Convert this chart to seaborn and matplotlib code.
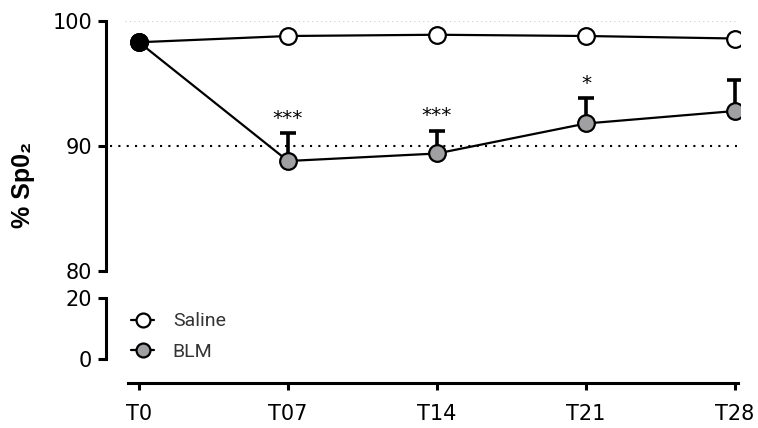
import matplotlib
matplotlib.use("Agg")
import matplotlib.pyplot as plt
import seaborn as sns
import pandas as pd
import numpy as np
from matplotlib.lines import Line2D

timepoints = ["T0", "T07", "T14", "T21", "T28"]
saline = [98.3, 98.8, 98.9, 98.8, 98.6]
blm = [98.3, 88.8, 89.4, 91.8, 92.8]
blm_err_upper = [0.0, 2.2, 1.8, 2.0, 2.5]
stars = ["", "***", "***", "*", ""]
threshold = 90

sns.set_theme(style="white")
plt.rcParams['font.family'] = ['DejaVu Sans']

W, H = 758, 428
fig = plt.figure(figsize=(W / 100, H / 100), dpi=100)

def frac(x0, y0, x1, y1):
    return [x0 / W, 1 - y1 / H, (x1 - x0) / W, (y1 - y0) / H]

ax = fig.add_axes(frac(106, 21, 740, 271))
axb = fig.add_axes(frac(106, 298, 740, 359))

xpos = np.arange(len(timepoints))
df = pd.DataFrame({
    "x": np.concatenate([xpos, xpos]),
    "y": saline + blm,
    "group": ["Saline"] * len(xpos) + ["BLM"] * len(xpos),
})

lw = 2.2
grey = "#a0a0a2"
ax.errorbar(xpos[1:], blm[1:], yerr=[np.zeros(len(xpos) - 1), blm_err_upper[1:]],
            fmt="none", ecolor="black", elinewidth=2.6, capsize=5.5, capthick=2.6, zorder=2)
sns.lineplot(data=df[df.group == "Saline"], x="x", y="y", ax=ax, color="black",
             marker="o", markersize=12, markerfacecolor="white", markeredgecolor="black",
             markeredgewidth=1.6, linewidth=1.6, zorder=3, legend=False)
sns.lineplot(data=df[df.group == "BLM"], x="x", y="y", ax=ax, color="black",
             marker="o", markersize=12, markerfacecolor=grey, markeredgecolor="black",
             markeredgewidth=1.6, linewidth=1.6, zorder=4, legend=False)
ax.plot([0], [blm[0]], marker="o", markersize=12, color="black", zorder=5)

for i, s in enumerate(stars):
    if s:
        ax.text(xpos[i], blm[i] + blm_err_upper[i] + 0.45, s, ha="center", va="bottom",
                fontsize=14.5, color="black")

ax.axhline(threshold, color="black", linestyle=(0, (1, 3)), linewidth=1.5, xmin=0.006, xmax=0.995, zorder=1)
ax.axhline(100, color="#cccccc", linestyle=(0, (1, 3)), linewidth=0.8, xmin=0.03, xmax=0.995, zorder=1)

xl = (-(139 - 106) / 149, (740 - 139) / 149)
for a in (ax, axb):
    a.set_xlim(*xl)
    for sp in ["top", "right"]:
        a.spines[sp].set_visible(False)
    a.spines["left"].set_linewidth(lw)
    a.spines["left"].set_color("black")
    a.tick_params(axis="y", direction="out", length=6, width=lw, labelsize=15, colors="black", pad=4, left=True)
    a.set_xlabel("")
    a.set_ylabel("")
    a.patch.set_alpha(0)

ax.set_ylim(80, 100)
ax.set_yticks([80, 90, 100])
ax.spines["bottom"].set_visible(False)
ax.set_xticks([])

axb.set_ylim(0, 20)
axb.set_yticks([0, 20])
axb.spines["bottom"].set_position(("outward", 17.3))
axb.spines["bottom"].set_linewidth(lw)
axb.spines["bottom"].set_color("black")
axb.spines["bottom"].set_bounds((128 - 139) / 149, (738 - 139) / 149)
axb.set_xticks(xpos)
axb.set_xticklabels(timepoints)
axb.tick_params(axis="x", direction="out", length=5, width=lw, labelsize=15, colors="black", pad=10, bottom=True)

fig.text(23 / W, 1 - 185 / H, "% Sp0₂", rotation=90, ha="center", va="center", color="black",
         fontsize=18, fontweight="bold", family=['Liberation Sans', 'DejaVu Sans'])

handles = [
    Line2D([], [], color="black", linewidth=1.6, marker="o", markersize=10,
           markerfacecolor="white", markeredgecolor="black", markeredgewidth=1.6),
    Line2D([], [], color="black", linewidth=1.6, marker="o", markersize=10,
           markerfacecolor=grey, markeredgecolor="black", markeredgewidth=1.6),
]
leg = axb.legend(handles, ["Saline", "BLM"], loc="center left",
                 bbox_to_anchor=((131 - 106) / 634, (359 - 336.5) / 61),
                 frameon=False, handlelength=1.2, handletextpad=0.95,
                 labelspacing=0.62, borderaxespad=0, borderpad=0,
                 prop={'family': ['Roboto', 'DejaVu Sans'], 'size': 14})
for t in leg.get_texts():
    t.set_color("#333333")

fig.savefig("out.png", dpi=100)
